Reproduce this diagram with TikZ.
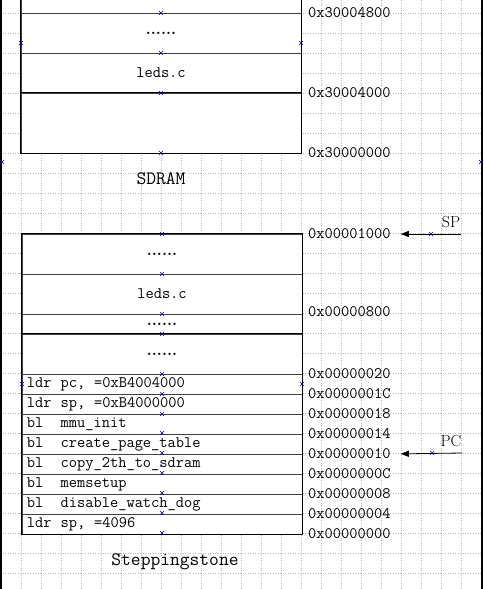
\documentclass[tikz,border=0pt]{standalone}
\usetikzlibrary{arrows.meta,positioning}

\newcommand{\opcode}[2]{\makebox[2.1em][l]{#1}#2}

\begin{document}
\begin{tikzpicture}[
    x=1pt, y=-1pt,
    cell/.style={rectangle, draw=black!75, line width=1pt, fill=white, minimum width=280pt, inner sep=0pt, font=\fontsize{16}{18}\selectfont\ttfamily},
    dotcell/.style={cell, font=\fontsize{16}{18}\selectfont\rmfamily\bfseries},
    codecell/.style={cell, minimum height=20pt, text width=270pt, inner xsep=5pt, align=left},
    addr/.style={anchor=west, inner sep=0pt, font=\fontsize{16}{18}\selectfont\ttfamily},
    regname/.style={inner sep=0pt, font=\fontsize{16}{18}\selectfont\rmfamily},
    memname/.style={font=\fontsize{19}{22}\selectfont\ttfamily},
    frame/.style={draw=black, line width=1.6pt},
    gridline/.style={draw=gray!55, line width=0.5pt, dotted},
    cp/.style={draw=blue!60!black, line width=0.5pt},
    ptr/.style={-{Triangle[length=8pt,width=6pt]}, line width=0.8pt},
    cpx/.pic={\draw[cp] (-2,-2) -- (2,2) (-2,2) -- (2,-2);},
]
    \useasboundingbox (0,0) rectangle (483,589);
    \clip (0,0) rectangle (483,589);

    % grid
    \foreach \gx in {21,41,...,481} \draw[gridline] (\gx,0) -- (\gx,589);
    \foreach \gy in {13,33,...,589} \draw[gridline] (0,\gy) -- (483,\gy);
    \draw[line width=2pt] (1,0) -- (1,589);
    \draw[line width=2pt] (481.5,0) -- (481.5,589);

    % SDRAM
    \node[cell, minimum height=30pt] (sdtop) at (161,-2) {};
    \node[dotcell, minimum height=40pt] (sddots) at (161,33) {......};
    \node[cell, minimum height=40pt] (sdleds) at (161,73) {leds.c};
    \node[cell, minimum height=60pt] (sdbase) at (161,123) {};
    \draw[frame] (sdtop.north west) rectangle (sdbase.south east);
    \draw[frame] (sdbase.north west) -- (sdbase.north east);
    \node[memname] (sdram) at (161,179) {SDRAM};

    \node[addr] (a30004800) at (308,13) {0x30004800};
    \node[addr] (a30004000) at (308,93) {0x30004000};
    \node[addr] (a30000000) at (308,153) {0x30000000};

    % Steppingstone
    \node[dotcell, minimum height=40pt] (ssdotsa) at (162,254) {......};
    \node[cell, minimum height=40pt] (ssleds) at (162,294) {leds.c};
    \node[dotcell, minimum height=20pt] (ssdotsb) at (162,324) {......};
    \node[dotcell, minimum height=40pt] (ssdotsc) at (162,354) {......};
    \foreach \code [count=\i from 0] in {%
        {\opcode{ldr}{\makebox[2.1em][l]{pc,}=0xB4004000}},
        {\opcode{ldr}{\makebox[2.1em][l]{sp,}=0xB4000000}},
        {\opcode{bl}{mmu\_init}},
        {\opcode{bl}{create\_page\_table}},
        {\opcode{bl}{copy\_2th\_to\_sdram}},
        {\opcode{bl}{memsetup}},
        {\opcode{bl}{disable\_watch\_dog}},
        {\opcode{ldr}{\makebox[2.1em][l]{sp,}=4096}}}
        \node[codecell] (row\i) at (162,384+20*\i) {\code};
    \draw[frame] (ssdotsa.north west) rectangle (row7.south east);
    \draw[frame] (ssdotsc.north west) -- (ssdotsc.north east);
    \node[memname] (stepping) at (175,562) {Steppingstone};

    \foreach \val [count=\i from 0] in {20,1C,18,14,10,0C,08,04,00}
        \node[addr] (a\val) at (308,374+20*\i) {0x000000\val};
    \node[addr] (a1000) at (308,234) {0x00001000};
    \node[addr] (a0800) at (308,312) {0x00000800};

    % pointers
    \node[regname] (sp) at (451,222) {SP};
    \node[regname] (pc) at (451,441) {PC};
    \coordinate (sptail) at (461,234);
    \coordinate (pctail) at (462,453);
    \draw[ptr, shorten >=10pt] (sptail) -- (a1000.east);
    \draw[ptr, shorten >=10pt] (pctail) -- (a10.east);

    % connection points
    \foreach \px/\py in {161/13, 21/43, 301/43, 161/53, 161/93, 161/153, 2/162, 481/162,
        162/234, 162/274, 162/314, 162/334, 162/374, 22/384, 302/384, 162/394, 162/414,
        162/433, 162/453, 162/473, 162/493, 162/513, 162/533, 431/234, 432/453}
        \pic at (\px,\py) {cpx};
\end{tikzpicture}
\end{document}
